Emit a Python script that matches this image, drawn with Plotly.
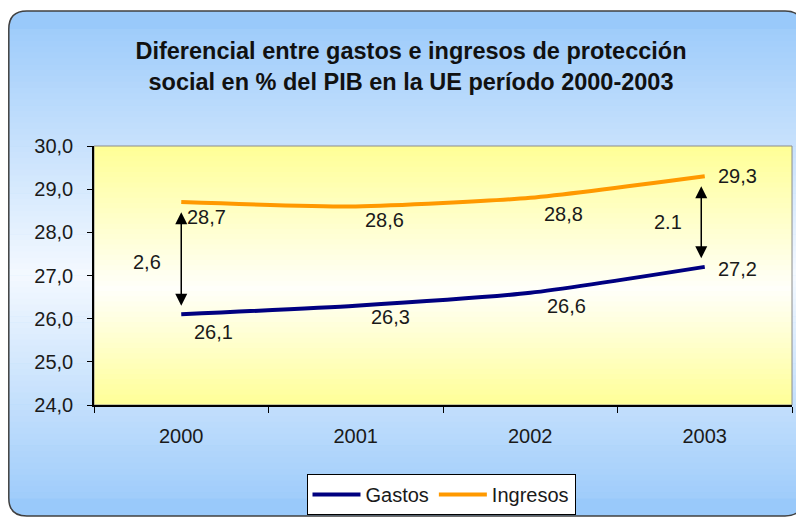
import plotly.graph_objects as go

# ---- data ----
years = ["2000", "2001", "2002", "2003"]
gastos = [26.1, 26.3, 26.6, 27.2]
ingresos = [28.7, 28.6, 28.8, 29.3]
gap_years = ["2000", "2003"]
gap_labels = ["2,6", "2.1"]
title_lines = ["Diferencial entre gastos e ingresos de protección",
               "social en % del PIB en la UE período 2000-2003"]
y_ticks = [24, 25, 26, 27, 28, 29, 30]

FONT = "Liberation Sans, Arial, sans-serif"
OFF = 8  # browser body margin
W, H = 804 - OFF, 517 - OFF
# plot area in page pixels: x 94..792, y 146..405
L, T = 94 - OFF, 146 - OFF
R, B = W - (792 - OFF), H - (405 - OFF)
PW, PH = W - L - R, H - T - B


def px2x(px):  # page px -> paper x
    return (px - OFF - L) / PW


def py2y(py):  # page px -> paper y
    return (H - B - (py - OFF)) / PH


def lerp(c1, c2, t):
    return "rgb(%d,%d,%d)" % tuple(round(a + (b - a) * t) for a, b in zip(c1, c2))


shapes = []
BLUE = (153, 201, 250)
BLUE_MID = (244, 249, 255)
ox0, ox1, oy0, oy1, rad = 8.8, 803, 11, 516, 18


def rounded_path(x0, x1, y0, y1, r):
    X = lambda v: px2x(v)
    Y = lambda v: py2y(v)
    return (f"M {X(x0 + r)} {Y(y0)} L {X(x1 - r)} {Y(y0)} Q {X(x1)} {Y(y0)} {X(x1)} {Y(y0 + r)} "
            f"L {X(x1)} {Y(y1 - r)} Q {X(x1)} {Y(y1)} {X(x1 - r)} {Y(y1)} "
            f"L {X(x0 + r)} {Y(y1)} Q {X(x0)} {Y(y1)} {X(x0)} {Y(y1 - r)} "
            f"L {X(x0)} {Y(y0 + r)} Q {X(x0)} {Y(y0)} {X(x0 + r)} {Y(y0)} Z")


path = rounded_path(ox0, ox1, oy0, oy1, rad)
shapes.append(dict(type="path", xref="paper", yref="paper", path=path,
                   fillcolor=lerp(BLUE, BLUE, 0), line=dict(width=0), layer="below"))
n = 80
g0, g1, gmid = oy0 + rad, oy1 - rad, 275
for i in range(n):
    a = g0 + (g1 - g0) * i / n
    b = g0 + (g1 - g0) * (i + 1) / n + 0.6
    m = (a + b) / 2
    if m < gmid:
        t = (m - oy0) / (gmid - oy0)
    else:
        t = (oy1 - m) / (oy1 - gmid)
    shapes.append(dict(type="rect", xref="paper", yref="paper",
                       x0=px2x(ox0 + 0.5), x1=px2x(ox1 - 0.5), y0=py2y(b), y1=py2y(a),
                       fillcolor=lerp(BLUE, BLUE_MID, t), line=dict(width=0), layer="below"))
shapes.append(dict(type="path", xref="paper", yref="paper", path=path,
                   line=dict(color="#404040", width=1.5), layer="below"))

# plot area gradient
YEL = (255, 255, 150)
YEL_MID = (255, 255, 250)
pmid = 0.45
m2 = 50
for i in range(m2):
    a = i / m2
    b = (i + 1) / m2 + 0.004
    m = (a + b) / 2
    t = m / pmid if m < pmid else (1 - m) / (1 - pmid)
    shapes.append(dict(type="rect", xref="paper", yref="paper", x0=0, x1=1,
                       y0=a, y1=min(b, 1), fillcolor=lerp(YEL, YEL_MID, min(t, 1)),
                       line=dict(width=0), layer="below"))
shapes.append(dict(type="rect", xref="paper", yref="paper", x0=0, x1=1, y0=0, y1=1,
                   line=dict(color="#8c8c8c", width=1), layer="below"))

fig = go.Figure()
fig.add_trace(go.Scatter(x=years, y=gastos, name="Gastos", mode="lines",
                         line=dict(color="#000080", width=4, shape="spline", smoothing=0.6),
                         hoverinfo="skip"))
fig.add_trace(go.Scatter(x=years, y=ingresos, name="Ingresos", mode="lines",
                         line=dict(color="#FF9900", width=4, shape="spline", smoothing=0.6),
                         hoverinfo="skip"))


def fmt(v):
    return f"{v:.1f}".replace(".", ",")


annotations = []
g_off = [(32, -18), (35, -11), (36, -13), (33, -2)]
i_off = [(25, -15), (29, -14), (33, -16), (33, 0)]
for k, yr in enumerate(years):
    annotations.append(dict(x=k, y=gastos[k], text=fmt(gastos[k]), showarrow=False,
                            xref="x", yref="y",
                            xshift=g_off[k][0], yshift=g_off[k][1],
                            font=dict(family=FONT, size=20, color="#1a1a1a")))
    annotations.append(dict(x=k, y=ingresos[k], text=fmt(ingresos[k]), showarrow=False,
                            xref="x", yref="y",
                            xshift=i_off[k][0], yshift=i_off[k][1],
                            font=dict(family=FONT, size=20, color="#1a1a1a")))

arrow_shift = {"2000": (0, -34, -4), "2003": (-0.02, -37, 0)}
for yr, lab in zip(gap_years, gap_labels):
    k = years.index(yr)
    dx, lx, ly = arrow_shift[yr]
    xi = k + dx
    annotations.append(dict(x=xi, y=gastos[k] + 0.2, ax=xi, ay=ingresos[k] - 0.2,
                            xref="x", yref="y", axref="x", ayref="y", text="",
                            showarrow=True, arrowhead=2, arrowside="end+start",
                            arrowsize=1.6, arrowwidth=1.5, arrowcolor="#000000"))
    annotations.append(dict(x=k, y=(gastos[k] + ingresos[k]) / 2, text=lab, showarrow=False,
                            xref="x", yref="y",
                            xshift=lx, yshift=ly,
                            font=dict(family=FONT, size=20, color="#1a1a1a")))

fig.update_layout(
    width=W, height=H,
    margin=dict(l=L, r=R, t=T, b=B, pad=0, autoexpand=False),
    paper_bgcolor="white", plot_bgcolor="rgba(0,0,0,0)",
    separators=",.",
    shapes=shapes, annotations=annotations,
    title=dict(text="<br>".join(title_lines), x=(411 - OFF) / W, xanchor="center",
               y=1 - (59 - OFF) / H, yanchor="middle", yref="container",
               font=dict(family=FONT, size=23.5, color="#111111", weight="bold")),
    xaxis=dict(type="category", range=[-0.5, 3.5], showline=True, linecolor="#000000",
               linewidth=1.5, ticks="outside", tickson="boundaries", ticklen=6,
               tickcolor="#000000", showgrid=False, zeroline=False, automargin=False,
               ticklabelstandoff=12,
               tickfont=dict(family=FONT, size=20, color="#1a1a1a"), fixedrange=True),
    yaxis=dict(range=[24, 30], tickvals=y_ticks, tickformat=".1f", showline=True,
               linecolor="#000000", linewidth=1.5, ticks="outside", ticklen=5,
               tickcolor="#000000", showgrid=False, zeroline=False, automargin=False,
               ticklabelstandoff=10,
               tickfont=dict(family=FONT, size=20, color="#1a1a1a"), fixedrange=True),
    legend=dict(orientation="h", x=(441 - OFF) / W, xref="container", xanchor="center",
                y=1 - (474 - OFF) / H, yref="container", yanchor="top",
                bgcolor="white", bordercolor="#000000", borderwidth=1,
                font=dict(family=FONT, size=20, color="#1a1a1a"),
                itemwidth=48, tracegroupgap=0),
    showlegend=True,
)

fig.write_html("out.html")
